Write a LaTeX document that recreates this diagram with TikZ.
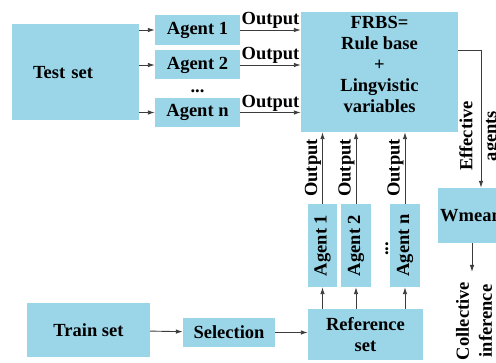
\documentclass[tikz,border=0pt]{standalone}
\usepackage{fontspec}
\setmainfont{Liberation Serif}
\newfontfamily\diagfont{Liberation Serif}
\usetikzlibrary{arrows.meta}
\definecolor{boxblue}{RGB}{155,214,232}
\definecolor{linegray}{RGB}{60,60,60}

\begin{document}
\begin{tikzpicture}[x=1pt, y=-1pt,
	box/.style={fill=boxblue, inner sep=0pt, align=center, font=\diagfont\bfseries\fontsize{18.5}{21}\selectfont},
	txt/.style={inner sep=1pt, align=center, font=\diagfont\bfseries\fontsize{18.5}{21}\selectfont},
	arr/.style={-{Latex[length=7pt,width=4.5pt]}, draw=linegray, line width=0.9pt}]

	\useasboundingbox (0,0) rectangle (496,363);
	\clip (0,0) rectangle (496,363);

	% Nodos
	\node[box, minimum width=127pt, minimum height=96pt, text width=85pt, align=left] (testset) at (75.5,72.5) {Test set};
	\node[box, minimum width=85pt, minimum height=30pt] (agent1) at (197.5,30) {Agent 1};
	\node[box, minimum width=85pt, minimum height=29pt] (agent2) at (197.5,65) {Agent 2};
	\node[txt] (hdots) at (197.5,91) {...};
	\node[box, minimum width=85pt, minimum height=29pt] (agentn) at (197.5,112.5) {Agent n};

	\node[box, minimum width=157pt, minimum height=120pt] (frbs) at (379.5,72) {};
	\node[txt] (frbstext) at (379.5,64) {FRBS=\\Rule base\\+\\Lingvistic\\variables};

	\node[box, rotate=90, minimum width=83pt, minimum height=29pt] (vagent1) at (322.5,245.5) {Agent 1};
	\node[box, rotate=90, minimum width=83pt, minimum height=30pt] (vagent2) at (356,245.5) {Agent 2};
	\node[txt, rotate=90] (vdots) at (387,249) {...};
	\node[box, rotate=90, minimum width=83pt, minimum height=30pt] (vagentn) at (405,245.5) {Agent n};

	\node[box, minimum width=123pt, minimum height=54pt] (trainset) at (88.5,330) {Train set};
	\node[box, minimum width=92pt, minimum height=29pt] (selection) at (229,332.5) {Selection};
	\node[box, minimum width=115pt, minimum height=51pt] (refset) at (365.5,334.5) {Reference\\set};

	\node[box, minimum width=66pt, minimum height=55pt] (wmean) at (471,215.5) {Wmean};
	\node[txt, rotate=90, font=\diagfont\bfseries\fontsize{18.5}{24}\selectfont] (effective) at (480,136) {Effective\\agents};
	\node[txt, rotate=90, font=\diagfont\bfseries\fontsize{18.5}{23}\selectfont] (collective) at (474,321) {Collective\\inference};
	\coordinate (collend) at (472,272);

	% Aristas
	\draw[arr] (testset.east |- agent1.west) -- (agent1.west);
	\draw[arr] (testset.east |- agent2.west) -- (agent2.west);
	\draw[arr] (testset.east |- agentn.west) -- (agentn.west);

	\draw[arr] (agent1.east) -- (agent1.east -| frbs.west) node[txt, midway, above] {Output};
	\draw[arr] (agent2.east) -- (agent2.east -| frbs.west) node[txt, midway, above] {Output};
	\draw[arr] (agentn.east) -- (agentn.east -| frbs.west) node[txt, midway, above] {Output};

	\draw[arr] (vagent1) -- (vagent1 |- frbs.south) node[txt, midway, above, rotate=90] {Output};
	\draw[arr] (vagent2) -- (vagent2 |- frbs.south) node[txt, midway, above, rotate=90] {Output};
	\draw[arr] (vagentn) -- (vagentn |- frbs.south) node[txt, midway, above, rotate=90] {Output};

	\draw[arr] (refset.north -| vagent1) -- (vagent1);
	\draw[arr] (refset.north -| vagent2) -- (vagent2);
	\draw[arr] (refset.north -| vagentn) -- (vagentn);

	\draw[arr] (trainset) -- (selection);
	\draw[arr] (selection) -- (refset.west |- selection);

	\draw[arr] ([yshift=22pt]frbs.east) -| ([xshift=10pt]wmean.north);
	\draw[arr] (wmean.south -| collend) -- (collend);

\end{tikzpicture}
\end{document}
